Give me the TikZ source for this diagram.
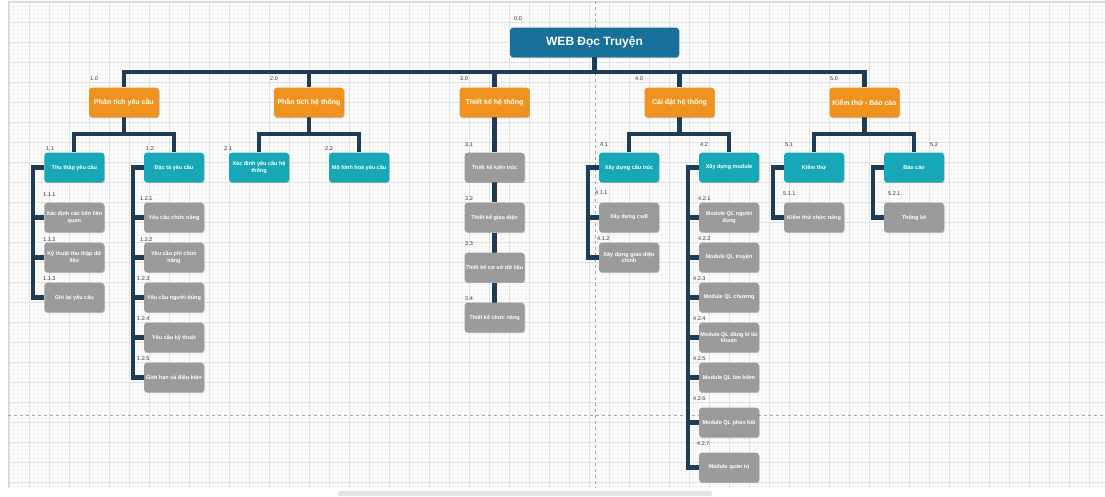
\documentclass[tikz,border=0pt]{standalone}
\usepackage{fontspec}
\setmainfont{Liberation Sans}
\usetikzlibrary{shadows}
\definecolor{orng}{HTML}{F0931E}
\definecolor{teal2}{HTML}{17A8B8}
\definecolor{grey2}{HTML}{9B9B9B}
\definecolor{rootc}{HTML}{167099}
\definecolor{connc}{HTML}{1E3C55}
\definecolor{gmaj}{HTML}{E0E0E0}
\definecolor{gmin}{HTML}{F4F4F4}
\definecolor{lblc}{HTML}{333333}
\definecolor{canv}{HTML}{FDFDFD}
\definecolor{bordc}{HTML}{D6D6D6}
\definecolor{dashc}{HTML}{AAAAAA}
\definecolor{scrollc}{HTML}{E4E4E4}
\pgfdeclarelayer{bgl}
\pgfdeclarelayer{midl}
\pgfsetlayers{bgl,midl,main}
\begin{document}
\begin{tikzpicture}[x=1pt,y=-1pt,
  boxbase/.style={rounded corners=3pt, text=white, align=center, inner sep=1pt,
    drop shadow={shadow xshift=0.6pt,shadow yshift=-0.9pt,fill=black,opacity=0.22}},
  rootbox/.style={boxbase, fill=rootc, minimum width=169pt, minimum height=29.6pt,
    font=\fontsize{12}{14}\selectfont\bfseries},
  lone/.style={boxbase, fill=orng, minimum width=70pt, minimum height=29.6pt,
    font=\fontsize{7}{8.5}\selectfont\bfseries},
  ltwo/.style={boxbase, fill=teal2, minimum width=60pt, minimum height=29.6pt,
    font=\fontsize{5.5}{6.6}\selectfont\bfseries},
  lthree/.style={boxbase, fill=grey2, minimum width=60pt, minimum height=29.6pt,
    font=\fontsize{5.5}{6.6}\selectfont\bfseries},
  num/.style={anchor=west, inner sep=0pt, text=lblc, font=\fontsize{5.5}{6.5}\selectfont},
  conn/.style={draw=connc, line width=4.2pt, line join=miter}]
\useasboundingbox (0,0) rectangle (1105,497);
\begin{pgfonlayer}{bgl}
  \fill[white] (0,0) rectangle (1105,497);
  \fill[canv] (8,1) rectangle (1105,488);
  \foreach \x in {9.3,13.3,...,1105} \draw[gmin,line width=0.5pt] (\x,1) -- (\x,488);
  \foreach \y in {2.7,6.7,...,488} \draw[gmin,line width=0.5pt] (8,\y) -- (1105,\y);
  \foreach \x in {9.3,29.3,...,1105} \draw[gmaj,line width=0.7pt] (\x,1) -- (\x,488);
  \foreach \y in {2.7,22.7,...,488} \draw[gmaj,line width=0.7pt] (8,\y) -- (1105,\y);
  \draw[bordc,line width=0.8pt] (8,488) -- (8,1) -- (1105,1);
  \draw[dashc,line width=0.6pt,dash pattern=on 3pt off 3pt] (595,1) -- (595,488);
  \draw[dashc,line width=0.6pt,dash pattern=on 3pt off 3pt] (8,415) -- (1105,415);
  \fill[scrollc,rounded corners=2pt] (338,491) rectangle (712,496);
\end{pgfonlayer}

% root and level 1
\node[rootbox] (r) at (594.5,42.5) {WEB Đọc Truyện};
\node[lone] (a) at (124,102.5) {Phân tích yêu cầu};
\node[lone] (b) at (309,102.5) {Phân tích hệ thống};
\node[lone] (c) at (494.5,102.5) {Thiết kế hệ thống};
\node[lone] (d) at (679.5,102.5) {Cài đặt hệ thống};
\node[lone] (e) at (864.5,102.5) {Kiểm thử - Báo cáo};

% level 2
\node[ltwo] (a1) at (74.3,167.5) {Thu thập yêu cầu};
\node[ltwo] (a2) at (174,167.5) {Đặc tả yêu cầu};
\node[ltwo] (b1) at (259,167.5) {Xác định yêu cầu hệ\\thống};
\node[ltwo] (b2) at (359,167.5) {Mô hình hoá yêu cầu};
\node[lthree] (c1) at (494.5,167.5) {Thiết kế kiến trúc};
\node[lthree] (c2) at (494.5,217.5) {Thiết kế giao diện};
\node[lthree] (c3) at (494.5,267.5) {Thiết kế cơ sở dữ liệu};
\node[lthree] (c4) at (494.5,317.5) {Thiết kế chức năng};
\node[ltwo] (d1) at (629,167.5) {Xây dựng cấu trúc};
\node[ltwo] (d2) at (729,167.5) {Xây dựng module};
\node[ltwo] (e1) at (814,167.5) {Kiểm thử};
\node[ltwo] (e2) at (914,167.5) {Báo cáo};

% level 3
\node[lthree] (a11) at (74.3,217.5) {Xác định các bên liên\\quan};
\node[lthree] (a12) at (74.3,257.5) {Kỹ thuật thu thập dữ\\liệu};
\node[lthree] (a13) at (74.3,297.5) {Ghi lại yêu cầu};
\node[lthree] (a21) at (174,217.5) {Yêu cầu chức năng};
\node[lthree] (a22) at (174,257.5) {Yêu cầu phi chức\\năng};
\node[lthree] (a23) at (174,297.5) {Yêu cầu người dùng};
\node[lthree] (a24) at (174,337.5) {Yêu cầu kỹ thuật};
\node[lthree] (a25) at (174,377.5) {Giới hạn và điều kiện};
\node[lthree] (d11) at (629,217.5) {Xây dựng csdl};
\node[lthree] (d12) at (629,257.5) {Xây dựng giao diện\\chính};
\node[lthree] (d21) at (729,217.5) {Module QL người\\dùng};
\node[lthree] (d22) at (729,257.5) {Module QL truyện};
\node[lthree] (d23) at (729,297.5) {Module QL chương};
\node[lthree] (d24) at (729,337.5) {Module QL đăng kí tài\\khoản};
\node[lthree] (d25) at (729,377.5) {Module QL tìm kiếm};
\node[lthree] (d26) at (729,422.5) {Module QL phản hồi};
\node[lthree] (d27) at (729,467.5) {Module quản trị};
\node[lthree] (e11) at (814,217.5) {Kiểm thử chức năng};
\node[lthree] (e21) at (914,217.5) {Thống kê};

% numbers
\node[num] (n00) at (514,19) {0.0};
\node[num] (n10) at (90,79) {1.0};
\node[num] (n20) at (270,79) {2.0};
\node[num] (n30) at (460,79) {3.0};
\node[num] (n40) at (635,79) {4.0};
\node[num] (n50) at (830,79) {5.0};
\node[num] (n11) at (46,149) {1.1};
\node[num] (n12) at (146,149) {1.2};
\node[num] (n21) at (224,149) {2.1};
\node[num] (n22) at (325,149) {2.2};
\node[num] (n31) at (465,145) {3.1};
\node[num] (n32) at (465,199) {3.2};
\node[num] (n33) at (465,244) {3.3};
\node[num] (n34) at (465,299) {3.4};
\node[num] (n41) at (600,145) {4.1};
\node[num] (n42) at (700,145) {4.2};
\node[num] (n51) at (785,145) {5.1};
\node[num] (n52) at (930,145) {5.2};
\node[num] (n111) at (43,195) {1.1.1};
\node[num] (n112) at (43,240) {1.1.2};
\node[num] (n113) at (43,279) {1.1.3};
\node[num] (n121) at (140,199) {1.2.1};
\node[num] (n122) at (140,240) {1.2.2};
\node[num] (n123) at (137,279) {1.2.3};
\node[num] (n124) at (137,319) {1.2.4};
\node[num] (n125) at (137,359) {1.2.5};
\node[num] (n411) at (595,193) {4.1.1};
\node[num] (n412) at (597,239) {4.1.2};
\node[num] (n421) at (698,199) {4.2.1};
\node[num] (n422) at (698,239) {4.2.2};
\node[num] (n423) at (693,279) {4.2.3};
\node[num] (n424) at (693,319) {4.2.4};
\node[num] (n425) at (693,359) {4.2.5};
\node[num] (n426) at (693,399) {4.2.6};
\node[num] (n427) at (697,444) {4.2.7};
\node[num] (n511) at (783,194) {5.1.1};
\node[num] (n521) at (888,194) {5.2.1};

% connectors
\begin{pgfonlayer}{midl}
  \foreach \k in {a,b,c,d,e} \draw[conn] (r.south) -- ++(0,14.4) -| (\k.north);
  \draw[conn] (a.south) -- ++(0,16.7) -| (a1.north);
  \draw[conn] (a.south) -- ++(0,16.7) -| (a2.north);
  \draw[conn] (b.south) -- ++(0,16.7) -| (b1.north);
  \draw[conn] (b.south) -- ++(0,16.7) -| (b2.north);
  \draw[conn] (d.south) -- ++(0,16.7) -| (d1.north);
  \draw[conn] (d.south) -- ++(0,16.7) -| (d2.north);
  \draw[conn] (e.south) -- ++(0,16.7) -| (e1.north);
  \draw[conn] (e.south) -- ++(0,16.7) -| (e2.north);
  \draw[conn] (c.south) -- (c1.north);
  \draw[conn] (c1.south) -- (c2.north);
  \draw[conn] (c2.south) -- (c3.north);
  \draw[conn] (c3.south) -- (c4.north);
  \foreach \k in {a11,a12,a13} \draw[conn] (a1.west) -- ++(-11,0) |- (\k.west);
  \foreach \k in {a21,a22,a23,a24,a25} \draw[conn] (a2.west) -- ++(-11,0) |- (\k.west);
  \foreach \k in {d11,d12} \draw[conn] (d1.west) -- ++(-11,0) |- (\k.west);
  \foreach \k in {d21,d22,d23,d24,d25,d26,d27} \draw[conn] (d2.west) -- ++(-11,0) |- (\k.west);
  \draw[conn] (e1.west) -- ++(-11,0) |- (e11.west);
  \draw[conn] (e2.west) -- ++(-11,0) |- (e21.west);
\end{pgfonlayer}
\end{tikzpicture}
\end{document}
